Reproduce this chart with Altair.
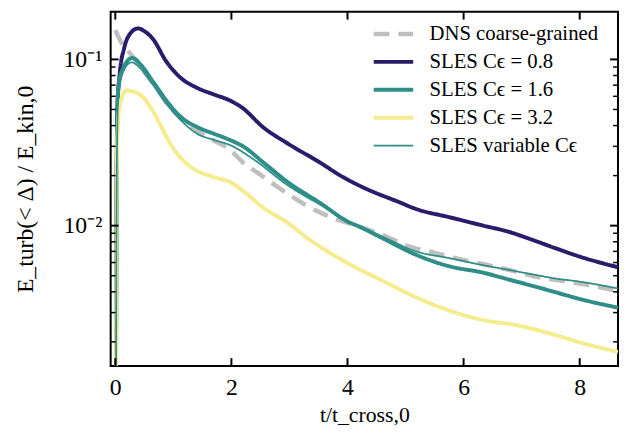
import altair as alt
import pandas as pd

FONT = "Liberation Serif"

series_names = ["DNS coarse-grained", "SLES Cϵ = 0.8", "SLES Cϵ = 1.6",
                "SLES Cϵ = 3.2", "SLES variable Cϵ"]
series_colors = ["#bfbfbf", "#2a1b6b", "#2f8e87", "#f5ec8e", "#2f8e87"]
series_dash = [[16, 9], [1, 0], [1, 0], [1, 0], [1, 0]]
series_width = [4.5, 4, 4, 4, 1.8]

t_dns = [0.0, 0.1, 0.28, 0.45, 0.65, 0.93, 1.2, 1.41, 1.7, 1.98, 2.2, 2.46, 2.86,
         3.25, 3.71, 4.2, 4.61, 5.07, 5.52, 5.97, 6.37, 6.8, 7.19, 7.6, 7.99, 8.3, 8.66]
e_dns = [0.150, 0.127, 0.106, 0.088, 0.072, 0.052, 0.043, 0.0374, 0.0325, 0.0285,
         0.024, 0.0207, 0.0165, 0.0135, 0.01125, 0.0099, 0.00877, 0.00748, 0.00684,
         0.00625, 0.00584, 0.0054, 0.00498, 0.0047, 0.00449, 0.0043, 0.00404]

t_08 = [0.0, 0.02, 0.035, 0.08, 0.15, 0.25, 0.39, 0.5, 0.646, 0.88, 1.13, 1.41, 1.7,
        1.98, 2.18, 2.55, 2.97, 3.54, 3.9, 4.22, 4.9, 5.18, 5.75, 6.34, 6.77, 7.19,
        7.59, 7.99, 8.66]
e_08 = [1e-5, 0.012, 0.05, 0.0845, 0.116, 0.142, 0.1536, 0.148, 0.133, 0.097, 0.0773,
        0.0674, 0.0615, 0.0565, 0.0514, 0.039, 0.0312, 0.0238, 0.0198, 0.0173, 0.0138,
        0.0126, 0.01125, 0.0100, 0.0092, 0.0082, 0.0073, 0.00653, 0.00562]

t_16 = [0.0, 0.02, 0.035, 0.05, 0.136, 0.29, 0.45, 0.646, 0.93, 1.13, 1.41, 1.7, 1.98,
        2.2, 2.55, 2.97, 3.54, 4.0, 4.22, 4.61, 5.18, 5.75, 6.34, 6.77, 7.19,
        7.59, 7.99, 8.66]
e_16 = [1e-5, 0.01, 0.045, 0.0674, 0.0885, 0.102, 0.092, 0.0738, 0.0537, 0.0449, 0.0392,
        0.0357, 0.0327, 0.030, 0.0240, 0.0183, 0.0136, 0.0106, 0.0098, 0.00838,
        0.00668, 0.0057, 0.00521, 0.00475, 0.00434, 0.00397, 0.00363, 0.00321]

t_32 = [0.0, 0.02, 0.035, 0.08, 0.19, 0.3, 0.42, 0.646, 0.8, 0.95, 1.13, 1.33, 1.65,
        2.0, 2.2, 2.55, 2.97, 3.31, 3.6, 4.05, 4.61, 5.18, 5.75, 6.34, 6.91, 7.48,
        8.04, 8.66]
e_32 = [1e-5, 0.008, 0.035, 0.0537, 0.065, 0.064, 0.0616, 0.049, 0.039, 0.031, 0.0255,
        0.0222, 0.0198, 0.0181, 0.0162, 0.0128, 0.0104, 0.0084, 0.0072, 0.00583,
        0.00465, 0.00371, 0.00309, 0.0027, 0.00252, 0.00225, 0.00197, 0.00174]

t_var = [0.0, 0.02, 0.035, 0.06, 0.14, 0.28, 0.45, 0.646, 0.93, 1.13, 1.41, 1.7, 1.98,
         2.4, 2.97, 3.54, 4.05, 4.6, 5.18, 5.75, 6.34, 6.8, 7.19, 7.6, 7.99, 8.66]
e_var = [1e-5, 0.009, 0.04, 0.063, 0.085, 0.096, 0.087, 0.0705, 0.0514, 0.043, 0.0357,
         0.0328, 0.0305, 0.0248, 0.0175, 0.0133, 0.0105, 0.0086, 0.0070, 0.00638,
         0.00578, 0.0054, 0.00509, 0.0048, 0.00461, 0.00419]

x_ticks = [0, 2, 4, 6, 8]
y_major = [0.01, 0.1]
y_minor = [0.002, 0.003, 0.004, 0.005, 0.006, 0.007, 0.008, 0.009,
           0.02, 0.03, 0.04, 0.05, 0.06, 0.07, 0.08, 0.09]

rows = []
for name, ts, es in zip(series_names, [t_dns, t_08, t_16, t_32, t_var],
                        [e_dns, e_08, e_16, e_32, e_var]):
    for t, e in zip(ts, es):
        rows.append({"series": name, "t": t, "E": e})
df = pd.DataFrame(rows)

W, H = 514, 359
MAJ, MIN = 8, 5

xs = alt.Scale(domain=[-0.08, 8.66], nice=False, zero=False)
ys = alt.Scale(type="log", domain=[0.00143, 0.1936], nice=False)

common = dict(domain=False, grid=False, ticks=False, labelColor="black",
              titleColor="black", labelFont=FONT, titleFont=FONT)

x_bottom = alt.Axis(orient="bottom", values=x_ticks, format="d", labelPadding=10,
                    labelFontSize=24, title="t/t_cross,0", titleFontSize=22,
                    titleFontWeight="normal", titlePadding=5, **common)
y_left = alt.Axis(orient="left", values=y_major,
                  labelExpr="datum.value > 0.05 ? '10⁻¹' : '10⁻²'", labelPadding=9,
                  labelFontSize=24, title="E_turb(< Δ) / E_kin,0", titleFontSize=24,
                  titleFontWeight="normal", titlePadding=26, **common)

legend = alt.Legend(title=None)


def series_layer(name):
    return alt.Chart(df).transform_filter(alt.datum.series == name).mark_line(
        clip=True, interpolate="monotone").encode(
        x=alt.X("t:Q", scale=xs, axis=None),
        y=alt.Y("E:Q", scale=ys, axis=None),
        color=alt.Color("series:N", scale=alt.Scale(domain=series_names, range=series_colors),
                        legend=legend),
        strokeDash=alt.StrokeDash("series:N", scale=alt.Scale(domain=series_names, range=series_dash),
                                  legend=legend),
        strokeWidth=alt.StrokeWidth("series:N", scale=alt.Scale(type="ordinal", domain=series_names,
                                                                range=series_width),
                                    legend=legend),
    )


df_dns = df[df.series == series_names[0]]
axis_layer = alt.Chart(df_dns).mark_line(strokeOpacity=0, clip=True).encode(
    x=alt.X("t:Q", scale=xs, axis=x_bottom), y=alt.Y("E:Q", scale=ys, axis=y_left))

xt = pd.DataFrame({"t": x_ticks})
ymaj = pd.DataFrame({"E": y_major})
ymin = pd.DataFrame({"E": y_minor})


def xtick(y0, y1):
    return alt.Chart(xt).mark_rule(color="black", strokeWidth=2).encode(
        x=alt.X("t:Q", scale=xs, axis=None), y=alt.value(y0), y2=alt.value(y1))


def ytick(data, x0, x1, w):
    return alt.Chart(data).mark_rule(color="black", strokeWidth=w).encode(
        y=alt.Y("E:Q", scale=ys, axis=None), x=alt.value(x0), x2=alt.value(x1))


tick_layers = [
    xtick(H, H - MAJ), xtick(0, MAJ),
    ytick(ymaj, 0, MAJ, 2), ytick(ymaj, W, W - MAJ, 2),
    ytick(ymin, 0, MIN, 1.5), ytick(ymin, W, W - MIN, 1.5),
]

chart = alt.layer(axis_layer, *[series_layer(n) for n in series_names], *tick_layers).resolve_axis(
    x="independent", y="independent"
).properties(
    width=W, height=H,
    autosize=alt.AutoSizeParams(type="none"),
    padding={"left": 104, "top": 1, "right": 1, "bottom": 62},
).configure_view(
    stroke="black", strokeWidth=2
).configure_legend(
    orient="none", legendX=276, legendY=12, padding=0,
    symbolType="M-4,0H4", symbolSize=100, labelOffset=26, rowPadding=6.3,
    labelFont=FONT, labelFontSize=21, labelColor="black", labelLimit=400,
)

chart.save("out.html", embed_options={"renderer": "svg", "actions": False})
